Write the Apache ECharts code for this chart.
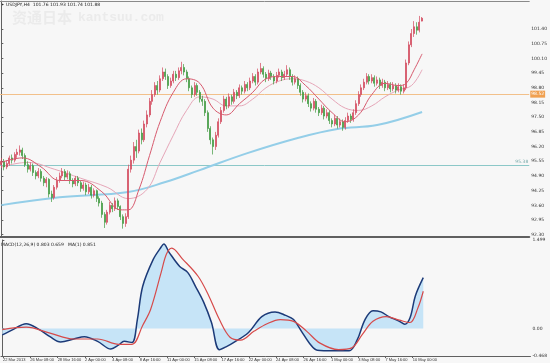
<!DOCTYPE html>
<html><head><meta charset="utf-8">
<script src="https://cdn.jsdelivr.net/npm/echarts@6/dist/echarts.min.js"></script>
<style>html,body{margin:0;padding:0;background:#f7f7f7}#c{width:550px;height:363px}</style>
</head><body><div id="c"></div>
<script>
// [open, close, low, high] per H4 bar
const candles = [
[95.40,95.55,95.25,95.70],[95.55,95.30,95.15,95.65],[95.30,95.45,95.20,95.60],[95.45,95.70,95.35,95.80],[95.70,95.60,95.45,95.85],
[95.60,95.85,95.50,95.95],[95.85,95.95,95.70,96.10],[95.95,96.05,95.80,96.25],[96.05,95.80,95.65,96.15],[95.80,95.40,95.30,95.90],
[95.40,95.20,95.05,95.55],[95.20,95.35,95.10,95.50],[95.35,95.05,94.90,95.45],[95.05,94.90,94.75,95.15],[94.90,95.10,94.80,95.25],
[95.10,94.80,94.65,95.20],[94.80,94.60,94.45,94.90],[94.60,94.75,94.40,94.85],[94.75,94.10,93.95,94.80],[94.10,93.95,93.75,94.25],
[93.95,94.40,93.85,94.50],[94.40,94.70,94.30,94.85],[94.70,94.90,94.60,95.05],[94.90,95.10,94.80,95.25],[95.10,94.85,94.70,95.20],
[94.85,95.00,94.75,95.15],[95.00,94.70,94.55,95.10],[94.70,94.55,94.40,94.80],[94.55,94.80,94.45,94.90],[94.80,94.60,94.45,94.90],
[94.60,94.35,94.20,94.70],[94.35,94.50,94.25,94.65],[94.50,94.20,94.05,94.60],[94.20,94.40,94.10,94.55],[94.40,94.05,93.90,94.50],
[94.05,94.25,93.95,94.35],[94.25,93.90,93.75,94.30],[93.90,93.70,93.55,94.00],[93.70,93.20,93.05,93.80],[93.20,92.85,92.60,93.30],
[92.85,93.30,92.75,93.40],[93.30,93.60,93.20,93.75],[93.60,93.45,93.30,93.70],[93.45,93.80,93.35,93.95],[93.80,93.55,93.40,93.90],
[93.55,93.10,92.95,93.60],[93.10,92.80,92.57,93.20],[92.80,93.10,92.65,93.25],[93.10,95.20,93.00,95.40],[95.20,95.60,95.05,95.80],
[95.60,96.20,95.45,96.40],[96.20,96.00,95.70,96.50],[96.00,96.80,95.90,96.95],[96.80,96.50,96.30,97.00],[96.50,97.20,96.40,97.35],
[97.20,97.60,97.05,97.80],[97.60,98.20,97.50,98.35],[98.20,98.50,98.05,98.70],[98.50,98.90,98.40,99.05],[98.90,98.70,98.50,99.10],
[98.70,99.20,98.60,99.35],[99.20,99.50,99.10,99.70],[99.50,99.30,99.15,99.65],[99.30,98.90,98.75,99.40],[98.90,99.10,98.80,99.25],
[99.10,99.40,99.00,99.55],[99.40,99.25,99.10,99.55],[99.25,99.55,99.15,99.70],[99.55,99.70,99.40,99.95],[99.70,99.50,99.35,99.85],
[99.50,99.20,99.05,99.60],[99.20,98.80,98.65,99.30],[98.80,98.50,98.35,98.90],[98.50,98.90,98.40,99.05],[98.90,98.60,98.45,99.00],
[98.60,98.30,98.15,98.70],[98.30,98.20,98.00,98.45],[98.20,97.70,97.55,98.30],[97.70,97.00,96.85,97.80],[97.00,96.50,96.30,97.10],
[96.50,96.20,95.85,96.60],[96.20,96.70,96.05,96.85],[96.70,97.30,96.60,97.45],[97.30,97.80,97.20,97.95],[97.80,98.30,97.70,98.45],
[98.30,98.00,97.85,98.40],[98.00,98.40,97.90,98.55],[98.40,98.20,98.05,98.50],[98.20,98.60,98.10,98.75],[98.60,98.45,98.30,98.70],
[98.45,98.80,98.35,98.95],[98.80,98.65,98.50,98.90],[98.65,98.95,98.55,99.10],[98.95,98.80,98.65,99.05],[98.80,99.10,98.70,99.25],
[99.10,99.30,99.00,99.45],[99.30,99.05,98.90,99.40],[99.05,99.50,98.95,99.65],[99.50,99.65,99.40,99.90],[99.65,99.40,99.25,99.75],
[99.40,99.20,99.05,99.50],[99.20,99.45,99.10,99.60],[99.45,99.30,99.15,99.55],[99.30,99.10,98.95,99.40],[99.10,99.35,99.00,99.50],
[99.35,99.50,99.25,99.65],[99.50,99.25,99.10,99.60],[99.25,99.40,99.15,99.55],[99.40,99.60,99.30,99.80],[99.60,99.30,99.15,99.70],
[99.30,99.05,98.90,99.40],[99.05,99.20,98.95,99.35],[99.20,98.90,98.75,99.30],[98.90,98.60,98.45,99.00],[98.60,98.30,98.15,98.70],
[98.30,98.45,98.20,98.60],[98.45,98.10,97.95,98.55],[98.10,97.90,97.75,98.20],[97.90,98.20,97.80,98.35],[98.20,97.85,97.70,98.30],
[97.85,97.70,97.55,97.95],[97.70,97.90,97.60,98.05],[97.90,97.55,97.40,98.00],[97.55,97.70,97.45,97.85],[97.70,97.35,97.20,97.80],
[97.35,97.20,97.05,97.45],[97.20,97.45,97.10,97.60],[97.45,97.15,97.00,97.55],[97.15,97.30,97.05,97.45],[97.30,97.05,96.90,97.40],
[97.05,97.35,96.95,97.50],[97.35,97.55,97.25,97.70],[97.55,97.40,97.25,97.65],[97.40,97.70,97.30,97.85],[97.70,98.10,97.60,98.25],
[98.10,98.50,98.00,98.65],[98.50,98.80,98.40,98.95],[98.80,99.05,98.70,99.20],[99.05,99.30,98.95,99.45],[99.30,99.10,98.95,99.40],
[99.10,99.25,99.00,99.40],[99.25,99.00,98.85,99.35],[99.00,99.15,98.90,99.30],[99.15,98.90,98.75,99.25],[98.90,99.05,98.80,99.20],
[99.05,98.80,98.65,99.15],[98.80,98.95,98.70,99.10],[98.95,98.75,98.60,99.05],[98.75,98.90,98.65,99.05],[98.90,98.70,98.55,99.00],
[98.70,98.85,98.60,99.00],[98.85,98.65,98.50,98.95],[98.65,98.80,98.55,98.95],[98.80,99.90,98.70,100.05],[99.90,100.70,99.80,100.85],
[100.70,101.20,100.60,101.40],[101.20,101.50,101.05,101.75],[101.50,101.35,101.15,101.70],[101.35,101.70,101.25,101.98],[101.75,101.88,101.74,101.93]
];
const slotCount = 200;

// moving averages: [bar index, price]
const maFast = [[0,95.5],[8,95.7],[15,95.3],[22,94.7],[30,94.7],[38,94.2],[45,93.4],[48,93.4],[52,94.3],[56,95.8],[60,97.3],[65,98.6],[70,99.2],[75,99.0],[80,97.9],[85,97.6],[90,98.1],[95,98.6],[100,99.2],[105,99.3],[110,99.3],[115,98.9],[120,98.3],[125,97.7],[130,97.3],[135,97.6],[140,98.5],[145,99.0],[150,98.9],[153,99.0],[156,99.6],[159,100.3]];
const maSlow = [[0,95.3],[10,95.5],[20,95.2],[30,94.8],[40,94.4],[48,93.9],[55,94.3],[60,95.5],[65,96.7],[70,97.8],[75,98.4],[80,98.3],[85,98.0],[90,98.0],[95,98.3],[100,98.8],[105,99.1],[110,99.2],[115,99.1],[120,98.8],[125,98.3],[130,97.9],[135,97.8],[140,98.0],[145,98.4],[150,98.7],[155,98.9],[159,99.6]];
const ma200 = [[0,93.61],[22,93.96],[48,94.19],[62,94.63],[75,95.16],[93,95.91],[112,96.58],[127,96.98],[142,97.15],[159,97.73]];

// MACD panel: [bar index, value]
const macdMain = [[0,-0.11],[4,-0.02],[9,0.08],[14,-0.02],[18,-0.14],[22,-0.23],[27,-0.18],[31,-0.14],[36,-0.22],[41,-0.35],[44,-0.28],[46,-0.22],[49,-0.24],[51,0.15],[53,0.71],[57,1.17],[60,1.38],[61,1.43],[63,1.29],[67,1.05],[70,0.95],[73,0.71],[76,0.45],[79,0.10],[82,-0.36],[85,-0.30],[87,-0.25],[93,-0.07],[98,0.20],[103,0.28],[107,0.22],[110,0.15],[113,-0.05],[116,-0.25],[119,-0.37],[125,-0.38],[131,-0.38],[134,-0.20],[137,0.15],[140,0.30],[143,0.28],[146,0.20],[150,0.12],[152,0.07],[154,0.18],[156,0.55],[159,0.86]];
const macdSignal = [[0,-0.02],[9,0.02],[18,-0.08],[27,-0.18],[36,-0.18],[44,-0.27],[49,-0.27],[53,0.05],[56,0.32],[60,0.95],[62,1.26],[64,1.36],[68,1.18],[74,0.88],[78,0.55],[82,0.15],[86,-0.15],[90,-0.20],[95,-0.05],[100,0.08],[105,0.15],[110,0.12],[115,-0.05],[120,-0.25],[127,-0.36],[132,-0.33],[136,-0.10],[140,0.12],[145,0.20],[150,0.14],[154,0.10],[157,0.35],[159,0.63]];

const priceTicks = [92.30,92.95,93.60,94.25,94.90,95.55,96.20,96.85,97.50,98.15,98.80,99.45,100.10,100.75,101.40];
const macdTicks = [-0.468,0,1.499];
const macdTickLabels = ['-0.468','0.00','1.499'];
const timePos = [0.25,10.57,20.89,31.2,41.5,51.9,62.2,72.5,82.8,93.1,103.4,113.8,124.1,134.4,144.7,155.0];
const timeLabels = ['22 Mar 2013','26 Mar 08:00','28 Mar 16:00','2 Apr 00:00','4 Apr 08:00','8 Apr 16:00','11 Apr 00:00','15 Apr 08:00','17 Apr 16:00','22 Apr 00:00','24 Apr 08:00','26 Apr 16:00','1 May 00:00','3 May 08:00','7 May 16:00','10 May 00:00'];
const levelOrange = 98.52, levelTeal = 95.38, bidPrice = 101.88;
const headerText = 'USDJPY,H4  101.76 101.93 101.74 101.88';
const macdText = 'MACD(12,26,9) 0.803 0.659   MA(1) 0.851';

const cats = candles.map((_, i) => String(i)).concat(Array.from({length: slotCount - candles.length}, (_, k) => String(candles.length + k)));
const FONT = 'DejaVu Sans';
const chart = echarts.init(document.getElementById('c'), null, {renderer: 'canvas'});
chart.setOption({
  backgroundColor: '#f7f7f7',
  animation: false,
  textStyle: {fontFamily: FONT},
  grid: [
    {left: 0, right: 17, top: 1, height: 236},
    {left: 0, right: 17, top: 240, height: 116}
  ],
  xAxis: [
    {type: 'category', gridIndex: 0, data: cats, boundaryGap: true,
     axisLine: {show: true, lineStyle: {color: '#606060', width: 2}}, axisTick: {show: false}, axisLabel: {show: false}},
    {type: 'value', gridIndex: 0, min: -0.5, max: slotCount - 0.5, position: 'top',
     axisLine: {show: true, onZero: false, lineStyle: {color: '#8a8a8a', width: 1}}, axisTick: {show: false}, axisLabel: {show: false}, splitLine: {show: false}},
    {type: 'value', gridIndex: 1, min: -0.5, max: slotCount - 0.5, position: 'bottom',
     axisLine: {show: true, onZero: false, lineStyle: {color: '#606060', width: 1}},
     axisTick: {show: true, customValues: timePos, length: 2, lineStyle: {color: '#606060'}},
     axisLabel: {show: true, customValues: timePos, align: 'left', margin: 2, fontSize: 4, color: '#333', fontFamily: 'Liberation Sans',
       formatter: v => { const k = timePos.indexOf(v); return k >= 0 ? timeLabels[k] : ''; }},
     splitLine: {show: false}}
  ],
  yAxis: [
    {type: 'value', gridIndex: 0, position: 'right', min: 92.20, max: 102.64, scale: true,
     axisLine: {show: true, lineStyle: {color: '#606060'}},
     axisTick: {show: true, customValues: priceTicks, length: 2, lineStyle: {color: '#606060'}},
     axisLabel: {show: true, customValues: priceTicks, margin: 2, fontSize: 4.5, color: '#333', fontFamily: FONT, formatter: v => v.toFixed(2)},
     splitLine: {show: false}},
    {type: 'value', gridIndex: 1, position: 'right', min: -0.468, max: 1.499,
     axisLine: {show: true, lineStyle: {color: '#606060'}},
     axisTick: {show: true, customValues: macdTicks, length: 2, lineStyle: {color: '#606060'}},
     axisLabel: {show: true, customValues: macdTicks, margin: 2, fontSize: 4.5, color: '#333', fontFamily: FONT,
       formatter: v => { const k = macdTicks.indexOf(v); return k >= 0 ? macdTickLabels[k] : ''; }},
     splitLine: {show: false}}
  ],
  series: [
    {type: 'line', xAxisIndex: 1, yAxisIndex: 0, data: ma200, smooth: 0.4, showSymbol: false,
     lineStyle: {color: '#94cee8', width: 2}, z: 2},
    {type: 'line', xAxisIndex: 1, yAxisIndex: 0, data: maSlow, smooth: 0.4, showSymbol: false,
     lineStyle: {color: '#e6a6b8', width: 1}, z: 2},
    {type: 'candlestick', xAxisIndex: 0, yAxisIndex: 0, data: candles, barWidth: 1.5,
     itemStyle: {color: '#d2475c', color0: '#3f9a3f', borderColor: '#d2475c', borderColor0: '#3f9a3f', borderWidth: 0.7},
     z: 3,
     markLine: {symbol: 'none', silent: true, animation: false, z: 1,
       data: [
         {yAxis: levelOrange, lineStyle: {color: '#f2c08a', width: 1, type: 'solid'},
          label: {show: true, position: 'end', distance: 1, formatter: levelOrange.toFixed(2), backgroundColor: '#f0a050', color: '#fff', fontSize: 4.5, padding: [1, 1], fontFamily: FONT}},
         {yAxis: levelTeal, lineStyle: {color: '#8cc8c8', width: 1, type: 'solid'},
          label: {show: true, position: 'insideEndTop', distance: 1, formatter: levelTeal.toFixed(2), color: '#7aa', fontSize: 4.5, fontFamily: FONT}},
         {yAxis: bidPrice, lineStyle: {opacity: 0},
          label: {show: true, position: 'end', distance: 1, formatter: bidPrice.toFixed(2), backgroundColor: '#111', color: '#fff', fontSize: 4.5, padding: [1, 1], fontFamily: FONT}}
       ]}},
    {type: 'line', xAxisIndex: 1, yAxisIndex: 0, data: maFast, smooth: 0.4, showSymbol: false,
     lineStyle: {color: '#d75a6e', width: 1}, z: 4},
    {type: 'line', xAxisIndex: 2, yAxisIndex: 1, data: macdMain, smooth: 0.35, showSymbol: false,
     lineStyle: {color: '#1c3a78', width: 1.5}, areaStyle: {color: '#c6e4f7', opacity: 1, origin: 0}, z: 2},
    {type: 'line', xAxisIndex: 2, yAxisIndex: 1, data: macdSignal, smooth: 0.35, showSymbol: false,
     lineStyle: {color: '#d64a4a', width: 1.2}, z: 3}
  ],
  graphic: [
    {type: 'text', left: 12, top: 10, silent: true, z: 0,
     style: {text: '资通日本', font: 'bold 15px "Noto Sans CJK SC"', fill: '#ebebeb'}},
    {type: 'text', left: 78, top: 11, silent: true, z: 0,
     style: {text: 'kantsuu.com', font: 'bold 13px "Liberation Mono"', fill: '#ebebeb'}},
    {type: 'polygon', shape: {points: [[1, 3], [4, 4.5], [1, 6]]}, style: {fill: '#333'}},
    {type: 'text', left: 6, top: 2, style: {text: headerText, font: '4.5px "DejaVu Sans"', fill: '#222'}},
    {type: 'text', left: 1, top: 242, style: {text: macdText, font: '4.5px "DejaVu Sans"', fill: '#222'}}
  ]
});
</script></body></html>
